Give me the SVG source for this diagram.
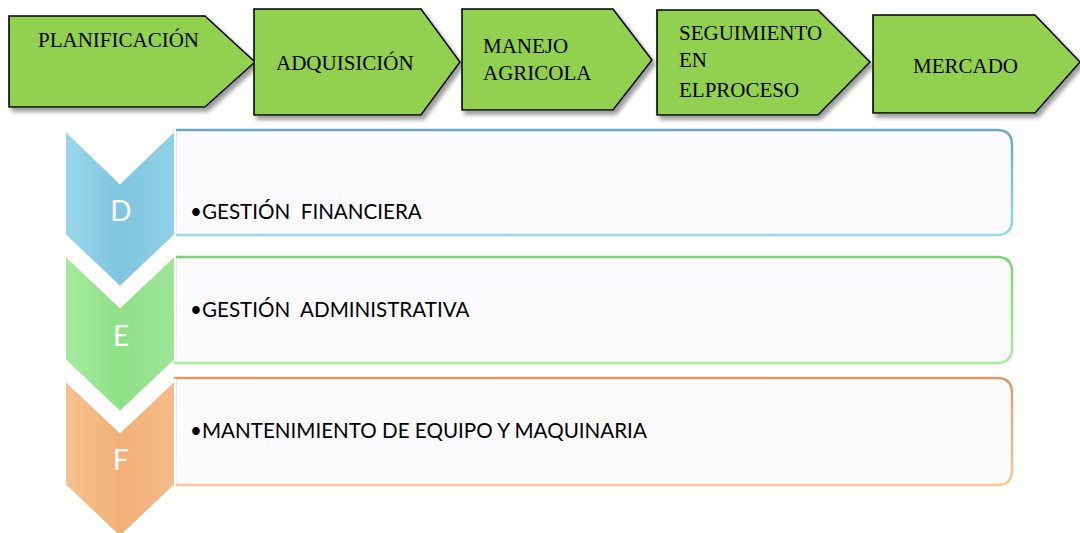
<svg xmlns="http://www.w3.org/2000/svg" width="1080" height="533" viewBox="0 0 1080 533">
<defs>
<filter id="sh" x="-10%" y="-10%" width="130%" height="140%">
<feDropShadow dx="3" dy="4" stdDeviation="2" flood-color="#7a7a7a" flood-opacity="0.75"/>
</filter>
<linearGradient id="gB" x1="0" y1="0" x2="1" y2="0">
<stop offset="0" stop-color="#9ad6ea"/><stop offset="0.5" stop-color="#7fc6df"/><stop offset="1" stop-color="#8fd0e6"/>
</linearGradient>
<linearGradient id="gG" x1="0" y1="0" x2="1" y2="0">
<stop offset="0" stop-color="#a6eba0"/><stop offset="0.5" stop-color="#8fe087"/><stop offset="1" stop-color="#9de596"/>
</linearGradient>
<linearGradient id="gO" x1="0" y1="0" x2="1" y2="0">
<stop offset="0" stop-color="#f7c291"/><stop offset="0.5" stop-color="#f2b078"/><stop offset="1" stop-color="#f5bb88"/>
</linearGradient>
<linearGradient id="sB" x1="0" y1="0" x2="0" y2="1">
<stop offset="0" stop-color="#6aaac6"/><stop offset="1" stop-color="#92dcf2"/>
</linearGradient>
<linearGradient id="sG" x1="0" y1="0" x2="0" y2="1">
<stop offset="0" stop-color="#78d46c"/><stop offset="1" stop-color="#a4f098"/>
</linearGradient>
<linearGradient id="sO" x1="0" y1="0" x2="0" y2="1">
<stop offset="0" stop-color="#d99a68"/><stop offset="1" stop-color="#fbc894"/>
</linearGradient>
</defs>
<style>
.pent{fill:#92d050;stroke:#000;stroke-width:1.6;filter:url(#sh)}
.pt{font-family:"Liberation Serif","Times New Roman",serif;font-size:21px;fill:#000}
.chev{stroke:#fff;stroke-width:2;stroke-linejoin:miter}
.box{fill:#fbfafd;stroke-width:2.5}
.bt{font-family:Lato,"Liberation Sans",sans-serif;font-size:20.6px;fill:#000;white-space:pre}
.lt{font-family:Lato,"Liberation Sans",sans-serif;font-size:28px;fill:#fff;text-anchor:middle}
</style>

<g id="planificacion">
<path class="pent" d="M9,16 L205,16 L255,62 L205,107 L9,107 Z"/>
<text class="pt" x="38" y="47">PLANIFICACIÓN</text>
</g>
<g id="adquisicion">
<path class="pent" d="M254,9 L421,9 L460,62 L421,115 L254,115 Z"/>
<text class="pt" x="276" y="70">ADQUISICIÓN</text>
</g>
<g id="manejo">
<path class="pent" d="M462,9 L613,9 L652,60 L613,110 L462,110 Z"/>
<text class="pt" x="483" y="53">MANEJO</text>
<text class="pt" x="483" y="80">AGRICOLA</text>
</g>
<g id="seguimiento">
<path class="pent" d="M657,10 L818,10 L870,62 L818,115 L657,115 Z"/>
<text class="pt" x="679" y="40">SEGUIMIENTO</text>
<text class="pt" x="679" y="67">EN</text>
<text class="pt" x="679" y="97">ELPROCESO</text>
</g>
<g id="mercado">
<path class="pent" d="M873,15 L1035,15 L1080,62 L1035,113 L873,113 Z"/>
<text class="pt" x="913" y="73">MERCADO</text>
</g>

<g id="row-d">
<path class="box" stroke="url(#sB)" d="M175,130 L997,130 Q1012,130 1012,145 L1012,220 Q1012,235 997,235 L175,235 Z"/>
<path class="chev" fill="url(#gB)" d="M65,130 L120,183 L175,130 L175,235 L120,287 L65,235 Z"/>
<text class="lt" x="121" y="221">D</text>
<text class="bt" x="190" y="219">•GESTIÓN  FINANCIERA</text>
</g>
<g id="row-e">
<path class="box" stroke="url(#sG)" d="M175,257 L997,257 Q1012,257 1012,272 L1012,348 Q1012,363 997,363 L175,363 Z"/>
<path class="chev" fill="url(#gG)" d="M65,255 L120,307 L175,255 L175,360 L120,412 L65,360 Z"/>
<text class="lt" x="121" y="346">E</text>
<text class="bt" x="190" y="317">•GESTIÓN  ADMINISTRATIVA</text>
</g>
<g id="row-f">
<path class="box" stroke="url(#sO)" d="M175,378 L997,378 Q1012,378 1012,393 L1012,470 Q1012,485 997,485 L175,485 Z"/>
<path class="chev" fill="url(#gO)" d="M65,380 L120,432 L175,380 L175,485 L120,537 L65,485 Z"/>
<text class="lt" x="121" y="470">F</text>
<text class="bt" x="190" y="438">•MANTENIMIENTO DE EQUIPO Y MAQUINARIA</text>
</g>
<g id="connectors"/>
</svg>
